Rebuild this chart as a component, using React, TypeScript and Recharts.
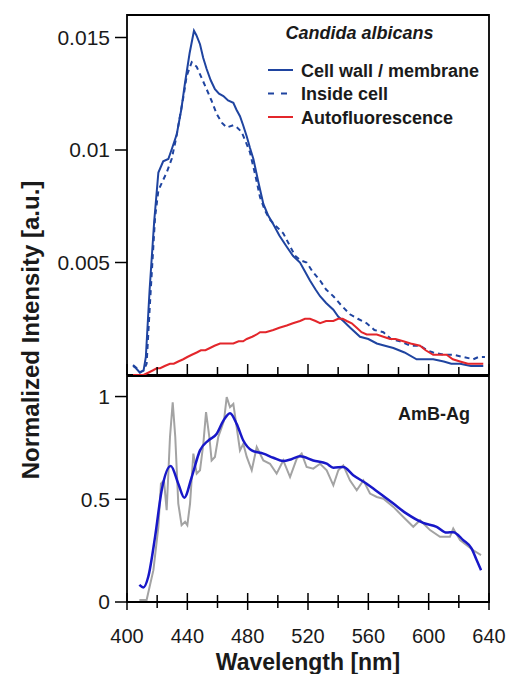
import React from "react";
import { LineChart, Line, XAxis, YAxis, ReferenceArea } from "recharts";

const FONT = '"Liberation Sans", Arial, Helvetica, sans-serif';
const INK = "#1a1a1a";

// [wavelength nm, normalized intensity]
const cellWall: [number, number][] = [
  [404, 0.0004], [406, 0.0003], [408.6, 0.0001], [411, 0.0002], [412.5, 0.0008],
  [415, 0.0038], [418, 0.0068], [420.8, 0.009], [424, 0.0095], [427.4, 0.0096],
  [430, 0.0101], [433, 0.0107], [436, 0.0118], [438.5, 0.013], [441.5, 0.0143],
  [444.4, 0.0153], [446, 0.0151], [448.4, 0.0147], [450.5, 0.0141], [452.8, 0.0136],
  [455.5, 0.0131], [458.3, 0.0127], [461, 0.0125], [463.9, 0.0124], [467, 0.0122],
  [470.5, 0.0121], [472.5, 0.0118], [474.9, 0.0115], [477, 0.0111], [479.4, 0.0106],
  [481.5, 0.0101], [483.8, 0.0096], [487, 0.0086], [490.4, 0.0076], [493.5, 0.0071],
  [497, 0.0067], [501, 0.0062], [505.9, 0.0057], [510, 0.0053], [514.7, 0.005],
  [518, 0.0046], [521.3, 0.0042], [525, 0.0038], [528, 0.0035], [532, 0.0032],
  [536.8, 0.0029], [540, 0.0026], [543.4, 0.0024], [548, 0.0021], [554.5, 0.0017],
  [560, 0.0016], [565.6, 0.0014], [571, 0.0013], [576.6, 0.0012], [584, 0.001],
  [592, 0.0007], [598, 0.0007], [603, 0.0007], [610, 0.0006], [615, 0.0005],
  [620.8, 0.0005], [628, 0.0004], [636.2, 0.0004],
];

const insideCell: [number, number][] = [
  [404, 0.00044], [406.5, 0.0003], [408.6, 0.00013], [411, 0.0002], [413, 0.0005],
  [415.5, 0.0035], [418.6, 0.007], [420.8, 0.0082], [423.5, 0.0086], [426.3, 0.009],
  [429.6, 0.0096], [432.5, 0.0105], [435.1, 0.0115], [437.5, 0.0124], [439.6, 0.0133],
  [442.9, 0.0139], [446.2, 0.0137], [449.5, 0.0132], [452.8, 0.0127], [456, 0.0122],
  [459.5, 0.0116], [463, 0.0112], [466.1, 0.011], [470.5, 0.0111], [473, 0.011],
  [476, 0.0108], [478.5, 0.0104], [481.5, 0.0099], [485, 0.0089], [488.2, 0.0079],
  [491.5, 0.0073], [494.8, 0.0069], [499, 0.0066], [503.6, 0.0063], [507.5, 0.0058],
  [511.4, 0.0053], [515, 0.0051], [519.1, 0.005], [523, 0.0046], [528, 0.0042],
  [532, 0.0038], [536.8, 0.0035], [542, 0.0031], [547.8, 0.0027], [553, 0.0025],
  [558.9, 0.0023], [564, 0.002], [570, 0.0019], [575, 0.0016], [581, 0.0015],
  [588, 0.0013], [594.3, 0.0013], [599, 0.0011], [603, 0.001], [610, 0.0009],
  [616.3, 0.0009], [623, 0.0008], [629.6, 0.0007], [633, 0.0008], [637.3, 0.0008],
];

const autofluorescence: [number, number][] = [
  [404, 0.0], [408, 0.0], [411, 0.0], [414, 0.0001], [417, 0.0002], [419.7, 0.0003],
  [422, 0.0003], [425, 0.0004], [428.5, 0.0005], [431, 0.0005], [434, 0.0006],
  [437.3, 0.0007], [440, 0.0008], [443, 0.0009], [446.2, 0.001], [449, 0.0011],
  [452, 0.0011], [455, 0.0012], [458, 0.0013], [461.7, 0.0014], [465, 0.0014],
  [468, 0.0014], [470.5, 0.0014], [474, 0.0015], [477, 0.0015], [479.4, 0.0016],
  [483, 0.0017], [486, 0.0018], [488.2, 0.0019], [492, 0.0019], [497, 0.002],
  [501, 0.0021], [505.9, 0.0022], [510, 0.0023], [514.7, 0.0024], [518, 0.0025],
  [521.3, 0.0025], [525, 0.0024], [528, 0.0023], [532, 0.0024], [536.8, 0.0024],
  [540, 0.0025], [543, 0.0025], [545.7, 0.0024], [549, 0.0023], [552.3, 0.0021],
  [555.5, 0.0019], [558.9, 0.0018], [562, 0.0018], [565.6, 0.0018], [570, 0.0017],
  [574.4, 0.0016], [578, 0.0016], [583.2, 0.0015], [588, 0.0014], [594.3, 0.0013],
  [598, 0.0011], [603, 0.0009], [608, 0.0009], [611.9, 0.0009], [616, 0.0007],
  [620.8, 0.0006], [626, 0.0005], [631, 0.0005], [636.2, 0.0005],
];

const ambRaw: [number, number][] = [
  [408.2, 0.01], [413, 0.01], [417.5, 0.155], [420.8, 0.366], [422.5, 0.576],
  [424.5, 0.592], [426.3, 0.447], [428.5, 0.803], [430.3, 0.972], [432, 0.803],
  [434, 0.479], [436.2, 0.374], [438.5, 0.39], [440, 0.374], [441.8, 0.479],
  [444, 0.722], [446.2, 0.625], [448.4, 0.641], [450.6, 0.77], [452.4, 0.924],
  [454.6, 0.803], [456.1, 0.689], [458.3, 0.706], [460.5, 0.803], [462.8, 0.851],
  [464.3, 0.883], [466.1, 0.997], [468.3, 0.948], [470.5, 0.964], [472.7, 0.851],
  [474.9, 0.738], [477.1, 0.77], [479.4, 0.706], [482.7, 0.641], [486, 0.754],
  [490.4, 0.689], [494.8, 0.673], [499.2, 0.625], [503.6, 0.689], [508.1, 0.608],
  [512.5, 0.697], [515.8, 0.722], [519.1, 0.657], [523.5, 0.649], [528, 0.673],
  [532.4, 0.641], [536.8, 0.568], [540.1, 0.641], [543.4, 0.665], [547.8, 0.592],
  [552.3, 0.544], [556.7, 0.592], [561.1, 0.528], [565.6, 0.511], [570, 0.503],
  [576.6, 0.463], [583.2, 0.414], [589.8, 0.366], [594.3, 0.398], [600.9, 0.35],
  [607.5, 0.317], [614.1, 0.317], [616.3, 0.358], [620.8, 0.301], [625.2, 0.277],
  [629.6, 0.252], [634.7, 0.228],
];

const ambSmooth: [number, number][] = [
  [408.2, 0.083], [410.8, 0.071], [414.1, 0.123], [418.6, 0.317], [423, 0.544],
  [429, 0.662], [434, 0.576], [438, 0.508], [442.9, 0.608], [448.4, 0.738],
  [453.9, 0.786], [459.5, 0.819], [463.9, 0.883], [468.3, 0.919], [472.7, 0.867],
  [477.1, 0.786], [482.7, 0.738], [490.4, 0.722], [497, 0.702], [503.6, 0.686],
  [509, 0.695], [514.7, 0.709], [523.5, 0.689], [532.4, 0.673], [536.8, 0.654],
  [543.4, 0.657], [550, 0.617], [558.9, 0.576], [567.7, 0.528], [576.6, 0.479],
  [585.4, 0.43], [596.4, 0.385], [605.3, 0.366], [611.9, 0.338], [616.3, 0.34],
  [622.9, 0.301], [628.5, 0.26], [631.8, 0.204], [634.7, 0.155],
];

const xTicks = [400, 420, 440, 460, 480, 500, 520, 540, 560, 580, 600, 620, 640];
const topYTicks = [0.005, 0.01, 0.015];
const bottomYTicks = [0, 0.5, 1];

const toRows = (pts: [number, number][]) => pts.map(([nm, v]) => ({ nm, v }));

const topSeries = [
  { name: "Cell wall / membrane", data: cellWall, color: "#1f44a0", dash: undefined },
  { name: "Inside cell", data: insideCell, color: "#1f44a0", dash: "5 4" },
  { name: "Autofluorescence", data: autofluorescence, color: "#e3262b", dash: undefined },
];

function TopTick({ x, y, payload }: any) {
  const major = payload.value % 40 === 0;
  return <line x1={x} x2={x} y1={y} y2={y - (major ? 11 : 8)} stroke="#000" strokeWidth={1.5} />;
}

function BottomTick({ x, y, payload }: any) {
  const major = payload.value % 40 === 0;
  return (
    <g>
      <line x1={x} x2={x} y1={y - (major ? 9 : 7)} y2={y + (major ? 8 : 6)} stroke="#000" strokeWidth={1.5} />
      {major && (
        <text x={x} y={y + 41} textAnchor="middle" fontSize={20} fontFamily={FONT} fill={INK}>
          {payload.value}
        </text>
      )}
    </g>
  );
}

const yTickStyle = { fontSize: 21, fill: INK, fontFamily: FONT };

export default function App() {
  return (
    <div style={{ position: "absolute", left: 0, top: 0, width: 508, height: 674, background: "#fff" }}>
      <div style={{ position: "absolute", left: 0, top: 0 }}>
        <LineChart width={508} height={376} margin={{ top: 15, right: 19, bottom: 0, left: 0 }}>
          <XAxis
            type="number"
            dataKey="nm"
            domain={[400, 640]}
            ticks={xTicks}
            interval={0}
            allowDataOverflow
            height={1}
            axisLine={false}
            tickLine={false}
            tickSize={0}
            tickMargin={0}
            tick={(p: any) => <TopTick {...p} />}
          />
          <YAxis
            type="number"
            domain={[0, 0.016]}
            ticks={topYTicks}
            interval={0}
            allowDataOverflow
            width={127}
            axisLine={false}
            tickSize={12}
            tickMargin={5}
            tickLine={{ stroke: "#000", strokeWidth: 1.5 }}
            tick={yTickStyle}
            tickFormatter={(v) => String(v)}
          />
          {topSeries.map((s) => (
            <Line
              key={s.name}
              data={toRows(s.data)}
              dataKey="v"
              type="linear"
              stroke={s.color}
              strokeWidth={2}
              strokeDasharray={s.dash}
              dot={false}
              isAnimationActive={false}
            />
          ))}
          <ReferenceArea x1={400} x2={640} y1={0} y2={0.016} fill="none" stroke="#000" strokeWidth={1.8} />
        </LineChart>
      </div>

      <div style={{ position: "absolute", left: 0, top: 376 }}>
        <LineChart width={508} height={298} margin={{ top: 0, right: 19, bottom: 0, left: 0 }}>
          <XAxis
            type="number"
            dataKey="nm"
            domain={[400, 640]}
            ticks={xTicks}
            interval={0}
            allowDataOverflow
            height={72}
            axisLine={false}
            tickLine={false}
            tickSize={0}
            tickMargin={0}
            tick={(p: any) => <BottomTick {...p} />}
          />
          <YAxis
            type="number"
            domain={[0, 1.1]}
            ticks={bottomYTicks}
            interval={0}
            allowDataOverflow
            width={127}
            axisLine={false}
            tickSize={12}
            tickMargin={5}
            tickLine={{ stroke: "#000", strokeWidth: 1.5 }}
            tick={yTickStyle}
            tickFormatter={(v) => String(v)}
          />
          <Line
            data={toRows(ambRaw)}
            dataKey="v"
            type="linear"
            stroke="#a3a3a3"
            strokeWidth={2}
            dot={false}
            isAnimationActive={false}
          />
          <Line
            data={toRows(ambSmooth)}
            dataKey="v"
            type="monotone"
            stroke="#1818c8"
            strokeWidth={2.5}
            dot={false}
            isAnimationActive={false}
          />
          <ReferenceArea x1={400} x2={640} y1={0} y2={1.1} fill="none" stroke="#000" strokeWidth={1.8} />
        </LineChart>
      </div>

      <svg
        width={508}
        height={674}
        style={{ position: "absolute", left: 0, top: 0, pointerEvents: "none" }}
        fontFamily={FONT}
      >
        <text
          transform="translate(30,330) rotate(-90)"
          textAnchor="middle"
          dominantBaseline="central"
          fontSize={24}
          fontWeight="bold"
          fill={INK}
        >
          Normalized Intensity [a.u.]
        </text>
        <text x={308} y={670} textAnchor="middle" fontSize={23} fontWeight="bold" fill={INK}>
          Wavelength [nm]
        </text>
        <text x={359.5} y={39} textAnchor="middle" fontSize={18} fontWeight="bold" fontStyle="italic" fill={INK}>
          Candida albicans
        </text>
        {topSeries.map((s, i) => (
          <g key={s.name}>
            <line
              x1={268}
              x2={293}
              y1={70 + i * 23.5}
              y2={70 + i * 23.5}
              stroke={s.color}
              strokeWidth={2}
              strokeDasharray={s.dash ? "6 7" : undefined}
            />
            <text x={301} y={76.5 + i * 23.5} fontSize={18} fontWeight="bold" fill={INK}>
              {s.name}
            </text>
          </g>
        ))}
        <text x={398} y={420} fontSize={18} fontWeight="bold" fill={INK}>
          AmB-Ag
        </text>
      </svg>
    </div>
  );
}
